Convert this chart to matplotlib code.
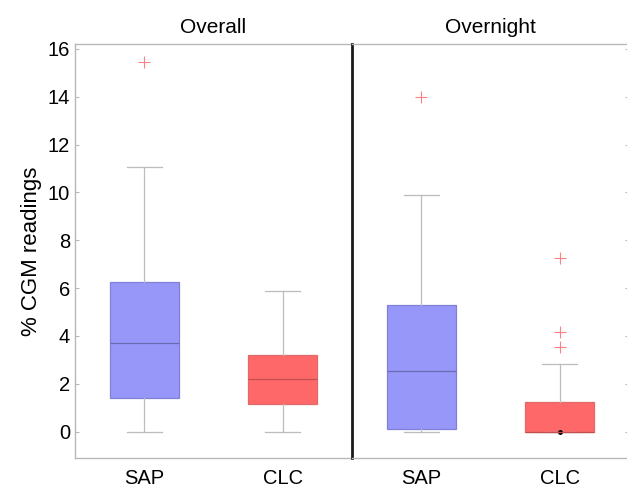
import matplotlib
matplotlib.use("Agg")
import matplotlib.pyplot as plt

plt.rcParams["font.family"] = ["Liberation Sans", "DejaVu Sans"]

PANELS = ["Overall", "Overnight"]
GROUPS = ["SAP", "CLC"]

# per panel: [SAP, CLC]
WHISLO = [[0.0, 0.0], [0.0, 0.0]]
Q1 = [[1.4, 1.15], [0.1, 0.0]]
MED = [[3.7, 2.2], [2.55, 0.0]]
Q3 = [[6.25, 3.2], [5.3, 1.25]]
WHISHI = [[11.05, 5.9], [9.9, 2.85]]
FLIERS = [[[15.45], []], [[14.0], [7.25, 4.15, 3.55]]]

FACE = ["#9797fa", "#ff6868"]
EDGE = ["#8080d8", "#e06a6a"]
MEDC = ["#6a6ab0", "#c05050"]

fig = plt.figure(figsize=(6.27, 4.88), dpi=100)
axes = [fig.add_axes([0.1196, 0.0615, 0.4418, 0.848]),
        fig.add_axes([0.5614, 0.0615, 0.4418, 0.848])]

for p, ax in enumerate(axes):
    stats = []
    for g in range(2):
        stats.append({"whislo": WHISLO[p][g], "q1": Q1[p][g], "med": MED[p][g],
                      "q3": Q3[p][g], "whishi": WHISHI[p][g],
                      "fliers": FLIERS[p][g], "label": GROUPS[g]})
    bp = ax.bxp(stats, positions=[1, 2], widths=0.5, patch_artist=True,
                flierprops=dict(marker="+", markeredgecolor="#ff8080",
                                markersize=8, markeredgewidth=0.8),
                whiskerprops=dict(color="#bcbcbc", linewidth=0.9),
                capprops=dict(color="#bcbcbc", linewidth=0.9),
                capwidths=0.25)
    for g in range(2):
        bp["boxes"][g].set_facecolor(FACE[g])
        bp["boxes"][g].set_edgecolor(EDGE[g])
        bp["boxes"][g].set_linewidth(0.9)
        bp["medians"][g].set_color(MEDC[g])
        bp["medians"][g].set_linewidth(0.9)
    if MED[p][1] == Q1[p][1]:
        ax.plot([2], [MED[p][1]], marker="o", color="black", markersize=2.5)

    ax.set_xlim(0.5, 2.5)
    ax.set_ylim(-1.1, 16.2)
    ax.set_title(PANELS[p], fontsize=15, pad=8)
    ax.tick_params(axis="x", length=0, labelsize=14.5, pad=8)
    ax.set_yticks(range(0, 17, 2))
    for s in ax.spines.values():
        s.set_color("#b8b8b8")
        s.set_linewidth(1.0)

axes[0].tick_params(axis="y", direction="in", length=3, color="#b8b8b8",
                    labelsize=14.5, right=False)
axes[0].set_ylabel("% CGM readings", fontsize=16, labelpad=4)
axes[0].spines["right"].set_visible(False)

axes[1].spines["left"].set_color("#1a1a1a")
axes[1].spines["left"].set_linewidth(2.0)
axes[1].spines["right"].set_visible(False)
axes[1].tick_params(axis="y", direction="in", length=3, color="#b8b8b8",
                    left=False, right=True, labelleft=False, labelright=False)

fig.savefig("out.png", dpi=100)
